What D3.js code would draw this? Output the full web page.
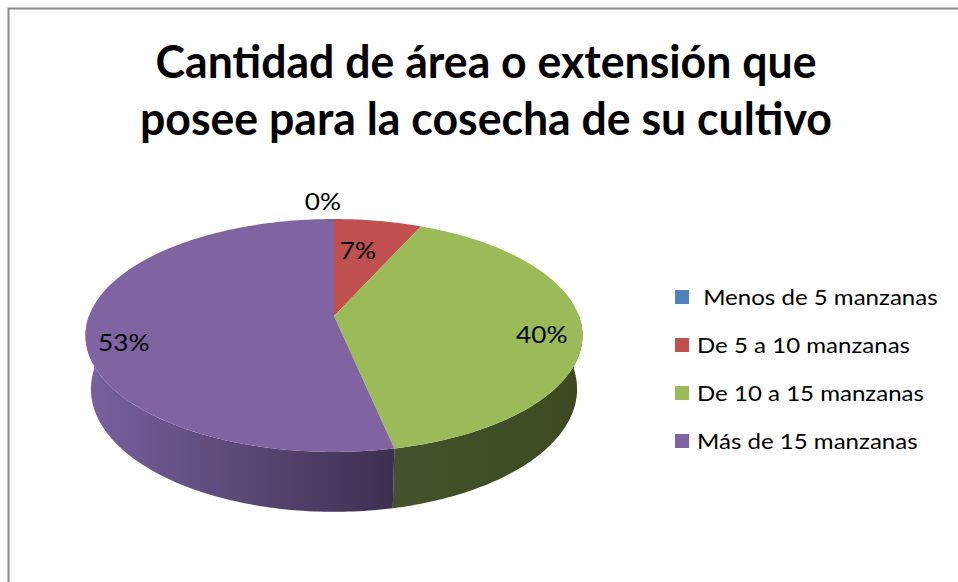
<!DOCTYPE html>
<html lang="es">
<head>
<meta charset="UTF-8">
<title>Cantidad de área o extensión</title>
<script src="https://d3js.org/d3.v7.min.js"></script>
<style>
  body { margin: 0; background: #fff; }
  text { font-family: Lato, "Noto Sans", sans-serif; }
</style>
</head>
<body>
<div id="chart"></div>
<script>
// data
const categories = [" Menos de 5 manzanas", "De 5 a 10 manzanas", "De 10 a 15 manzanas", "Más de 15 manzanas"];
const percents = [0, 6.7, 40, 53.3];
const colors = ["#4F81BD", "#C0504D", "#9BBB59", "#8064A2"];
const titleLines = ["Cantidad de área o extensión que", "posee para la cosecha de su cultivo"];

const W = 958, H = 582;
const svg = d3.select('#chart').append('svg')
    .attr('width', W)
    .attr('height', H);

// chart border
svg.append('rect')
    .attr('x', 8.5).attr('y', 8.5)
    .attr('width', W + 20).attr('height', H + 20)
    .attr('fill', 'none')
    .attr('stroke', '#8a8a8a')
    .attr('stroke-width', 2);

// 3d pie geometry (perspective view)
const cx = 334, cy = 316;    // apex of the pie on screen
const R = 245, depthH = 61;  // radius and thickness
const tilt = Math.asin(113.2 / R);
const D = 1298;              // camera distance

function proj(theta, r, yDown) {
    const x = r * Math.sin(theta);
    const z = -r * Math.cos(theta);
    const Y = yDown * Math.cos(tilt) + z * Math.sin(tilt);
    const dep = z * Math.cos(tilt) - yDown * Math.sin(tilt);
    const s = D / (D - dep);
    return [cx + x * s, cy + Y * s];
}

function arcPts(a0, a1, r, yDown) {
    const n = Math.max(2, Math.ceil(Math.abs(a1 - a0) / (Math.PI / 180)));
    return d3.range(n + 1).map(i => proj(a0 + (a1 - a0) * i / n, r, yDown));
}

const color = d3.scaleOrdinal().domain(categories).range(colors);
const pie = d3.pie().sort(null).value(d => d.v).startAngle(0).endAngle(2 * Math.PI);
const slices = pie(categories.map((c, i) => ({ c: c, v: percents[i] })));
const line = d3.line();

// gradients for the side walls
const defs = svg.append('defs');
const gPurple = defs.append('linearGradient')
    .attr('id', 'sidePurple')
    .attr('gradientUnits', 'userSpaceOnUse')
    .attr('x1', cx - R).attr('x2', cx + 62).attr('y1', 0).attr('y2', 0);
gPurple.append('stop').attr('offset', 0).attr('stop-color', '#77619F');
gPurple.append('stop').attr('offset', 0.5).attr('stop-color', '#5A4875');
gPurple.append('stop').attr('offset', 1).attr('stop-color', '#3C2F4F');
const gGreen = defs.append('linearGradient')
    .attr('id', 'sideGreen')
    .attr('gradientUnits', 'userSpaceOnUse')
    .attr('x1', cx + 62).attr('x2', cx + R).attr('y1', 0).attr('y2', 0);
gGreen.append('stop').attr('offset', 0).attr('stop-color', '#43522A');
gGreen.append('stop').attr('offset', 1).attr('stop-color', '#3D4A21');
const sideFill = { "#8064A2": "url(#sidePurple)", "#9BBB59": "url(#sideGreen)", "#C0504D": "#6E2B29", "#4F81BD": "#2C4A6E" };

// visible part of the outer wall
const vis0 = Math.PI / 2, vis1 = 3 * Math.PI / 2;
const walls = svg.append('g');
slices.forEach(d => {
    const a = Math.max(d.startAngle, vis0), b = Math.min(d.endAngle, vis1);
    if (b <= a) return;
    const pts = arcPts(a, b, R, 0).concat(arcPts(b, a, R, depthH));
    walls.append('path')
        .attr('d', line(pts) + 'Z')
        .attr('fill', sideFill[color(d.data.c)]);
});

// top faces
const tops = svg.append('g');
slices.forEach(d => {
    if (d.endAngle - d.startAngle <= 0) return;
    const pts = [proj(0, 0, 0)].concat(arcPts(d.startAngle, d.endAngle, R, 0));
    tops.append('path')
        .attr('d', line(pts) + 'Z')
        .attr('fill', color(d.data.c));
});

// data labels
const labelR = [1.13, 0.62, 0.84, 0.85];
const labelNudge = [[-11, -7], [-5, -3], [0, 8], [0, 16]];
const labels = svg.append('g')
    .attr('font-size', 24)
    .attr('fill', '#000')
    .attr('text-anchor', 'middle');
slices.forEach((d, i) => {
    const mid = (d.startAngle + d.endAngle) / 2;
    const p = proj(mid, R * labelR[i], 0);
    labels.append('text')
        .attr('x', p[0] + labelNudge[i][0])
        .attr('y', p[1] + labelNudge[i][1])
        .attr('dy', '0.36em')
        .text(Math.round(percents[i]) + '%');
});

// title
const title = svg.append('g')
    .attr('font-size', 46)
    .attr('font-weight', 'bold')
    .attr('fill', '#000')
    .attr('text-anchor', 'middle');
titleLines.forEach((t, i) => {
    title.append('text')
        .attr('x', 486)
        .attr('y', 78 + i * 57)
        .text(t);
});

// legend
const ly = d3.scalePoint().domain(categories).range([297, 441]);
const legend = svg.append('g').attr('font-size', 22).attr('fill', '#000');
categories.forEach(c => {
    legend.append('rect')
        .attr('x', 675).attr('y', ly(c) - 7)
        .attr('width', 14).attr('height', 14)
        .attr('fill', color(c));
    legend.append('text')
        .attr('x', 697).attr('y', ly(c))
        .attr('dy', '0.35em')
        .style('white-space', 'pre')
        .text(c);
});

// the picture is stretched sideways: match text widths
function stretch(sel, k) {
    sel.selectAll('text').each(function() {
        const w = this.getComputedTextLength();
        d3.select(this).attr('textLength', w * k).attr('lengthAdjust', 'spacingAndGlyphs');
    });
}
const t0 = title.select('text').node().getComputedTextLength();
stretch(title, 661 / t0);
const l1 = legend.selectAll('text').nodes()[1].getComputedTextLength();
const kText = 213 / l1;
stretch(legend, kText);
stretch(labels, kText);
</script>
</body>
</html>
